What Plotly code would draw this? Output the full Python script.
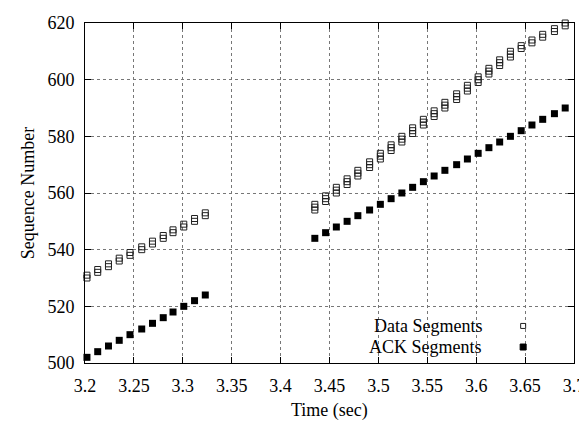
import plotly.graph_objects as go

# ---- data ----
ack_times = [3.202, 3.213, 3.224, 3.235, 3.246, 3.258, 3.269, 3.280, 3.290, 3.301, 3.312, 3.323,
             3.435, 3.446, 3.457, 3.468, 3.479, 3.491, 3.502, 3.513, 3.524, 3.535, 3.546, 3.557,
             3.568, 3.580, 3.591, 3.602, 3.613, 3.624, 3.635, 3.646, 3.657, 3.668, 3.680, 3.691]
ack_seqs = [502, 504, 506, 508, 510, 512, 514, 516, 518, 520, 522, 524,
            544, 546, 548, 550, 552, 554, 556, 558, 560, 562, 564, 566,
            568, 570, 572, 574, 576, 578, 580, 582, 584, 586, 588, 590]

data_times = ack_times
data_seqs = [[530, 531], [532, 533], [534, 535], [536, 537], [538, 539], [540, 541],
             [542, 543], [544, 545], [546, 547], [548, 549], [550, 551], [552, 553],
             [554, 555, 556], [557, 558, 559], [560, 561, 562], [563, 564, 565],
             [566, 567, 568], [569, 570, 571], [572, 573, 574], [575, 576, 577],
             [578, 579, 580], [581, 582, 583], [584, 585, 586], [587, 588, 589],
             [590, 591, 592], [593, 594, 595], [596, 597, 598], [599, 600, 601],
             [602, 603, 604], [605, 606, 607], [608, 609, 610], [611, 612],
             [613, 614], [615, 616], [617, 618], [619, 620]]

x_ticks = [3.2, 3.25, 3.3, 3.35, 3.4, 3.45, 3.5, 3.55, 3.6, 3.65, 3.7]
x_tick_labels = ["3.2", "3.25", "3.3", "3.35", "3.4", "3.45", "3.5", "3.55", "3.6", "3.65", "3.7"]
y_ticks = [500, 520, 540, 560, 580, 600, 620]
legend_names = ["Data Segments", "ACK Segments"]
x_title = "Time (sec)"
y_title = "Sequence Number"

# expand data stacks
dx, dy = [], []
for t, seqs in zip(data_times, data_seqs):
    for s in seqs:
        dx.append(t)
        dy.append(s)

FONT = "Liberation Serif, Times New Roman, serif"
FS = 18

fig = go.Figure()
fig.add_trace(go.Scatter(x=dx, y=dy, mode="markers", name=legend_names[0],
                         marker=dict(symbol="square-open", size=6, color="#222",
                                     line=dict(width=1, color="#222")),
                         showlegend=False, cliponaxis=False))
fig.add_trace(go.Scatter(x=ack_times, y=ack_seqs, mode="markers", name=legend_names[1],
                         marker=dict(symbol="square", size=7, color="black"),
                         showlegend=False, cliponaxis=False))

axis_common = dict(showline=True, linecolor="black", linewidth=1, mirror="ticks",
                   ticks="inside", ticklen=6, tickcolor="black", tickwidth=1,
                   showgrid=True, gridcolor="#777", griddash="dot", gridwidth=1,
                   zeroline=False, tickfont=dict(family=FONT, size=FS, color="black"),
                   automargin=False, ticklabeloverflow="allow")

fig.update_xaxes(range=[3.2, 3.7], tickvals=x_ticks, ticktext=x_tick_labels,
                 ticklabelstandoff=6, **axis_common)
fig.update_yaxes(range=[500, 620], tickvals=y_ticks, ticklabelstandoff=6, **axis_common)

# axis titles
fig.add_annotation(xref="paper", yref="paper", x=0.5, y=-0.14, text=x_title,
                   showarrow=False, xanchor="center", yanchor="middle",
                   font=dict(family=FONT, size=FS, color="black"))
fig.add_annotation(xref="paper", yref="paper", x=-0.116, y=0.5, text=y_title,
                   showarrow=False, xanchor="center", yanchor="middle", textangle=-90,
                   font=dict(family=FONT, size=FS, color="black"))

# legend (gnuplot style: text then sample)
leg_y = [0.109, 0.047]
for name, yy in zip(legend_names, leg_y):
    fig.add_annotation(xref="paper", yref="paper", x=0.815, y=yy, text=name,
                       showarrow=False, xanchor="right", yanchor="middle",
                       font=dict(family=FONT, size=FS, color="black"))
w = 5 / 489
h = 5 / 340
fig.add_shape(type="rect", xref="paper", yref="paper",
              x0=0.896 - w / 2, x1=0.896 + w / 2, y0=leg_y[0] - h / 2, y1=leg_y[0] + h / 2,
              line=dict(color="#222", width=1), fillcolor="rgba(0,0,0,0)")
w2 = 6 / 489
h2 = 6 / 340
fig.add_shape(type="rect", xref="paper", yref="paper",
              x0=0.896 - w2 / 2, x1=0.896 + w2 / 2, y0=leg_y[1] - h2 / 2, y1=leg_y[1] + h2 / 2,
              line=dict(color="black", width=1), fillcolor="black")

fig.update_layout(width=587, height=421, paper_bgcolor="white", plot_bgcolor="white",
                  margin=dict(l=77, r=21, t=15, b=66),
                  font=dict(family=FONT, size=FS, color="black"))

fig.write_html("out.html")
